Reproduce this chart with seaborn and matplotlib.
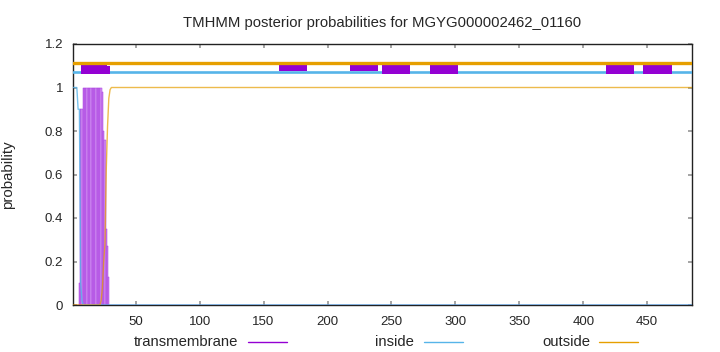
import numpy as np
import pandas as pd
import matplotlib
matplotlib.use("Agg")
import matplotlib.pyplot as plt
from matplotlib.lines import Line2D
import seaborn as sns

# ---------------- data ----------------
seq_len = 485
title = "TMHMM posterior probabilities for MGYG000002462_01160"

# transmembrane posterior, residues 1..31 (rest 0)
tm_head = [0, 0, 0, 0, 0, 0.1, 0.9, 0.9, 1.0, 1.0, 1.0, 1.0, 1.0, 1.0, 1.0,
           1.0, 1.0, 1.0, 1.0, 1.0, 1.0, 1.0, 1.0, 0.98, 0.80, 0.76, 0.35,
           0.27, 0.13, 0, 0]
# inside posterior, residues 1..9 (rest 0)
inside_head = [1.0, 1.0, 1.0, 1.0, 0.9, 0.9, 0.1, 0.02, 0]
# outside posterior, residues 1..31 (rest 1)
outside_head = [0] * 22 + [0.02, 0.08, 0.2, 0.28, 0.62, 0.82, 0.95, 0.99, 1.0]

# topology boxes at the top (start, end) in residues
full_boxes = [(7.1, 27.2)]
full_box_tail = [(27.2, 30.3)]
upper_boxes = [(162.4, 184.3), (217.3, 239.2)]
lower_boxes = [(242.4, 264.3), (280, 302), (418, 440), (447, 469)]
outside_level = 1.111
inside_level = 1.071

xticks = [50, 100, 150, 200, 250, 300, 350, 400, 450]
yticks = [0, 0.2, 0.4, 0.6, 0.8, 1.0, 1.2]
ytick_labels = ["0", "0.2", "0.4", "0.6", "0.8", "1", "1.2"]
legend_names = ["transmembrane", "inside", "outside"]

# ---------------- build series ----------------
pos = np.arange(1, seq_len + 1)
tm = np.array(tm_head + [0.0] * (seq_len - len(tm_head)))
inside = np.array(inside_head + [0.0] * (seq_len - len(inside_head)))
outside = np.array(outside_head + [1.0] * (seq_len - len(outside_head)))
df = pd.DataFrame({"pos": pos, "tm": tm, "inside": inside, "outside": outside})

purple = "#9400d3"
blue = "#56b4e9"
orange = "#e69f00"

sns.set_theme(style="white")
plt.rcParams["font.family"] = ["Liberation Sans", "DejaVu Sans"]

W, H = 720, 352
L, R, T, B = 73, 692, 44, 305
fig = plt.figure(figsize=(7.2, 3.52), dpi=100)
ax = fig.add_axes([L / W, (H - B) / H, (R - L) / W, (B - T) / H])

# transmembrane bars
ax.bar(df["pos"], df["tm"], width=1.0, color="#d294f2",
       edgecolor="#a838e0", linewidth=0.35, zorder=2)

# inside / outside lines
sns.lineplot(data=df, x="pos", y="inside", ax=ax, color=blue, lw=1.0,
             alpha=0.8, zorder=3, legend=False)
sns.lineplot(data=df, x="pos", y="outside", ax=ax, color=orange, lw=1.0,
             alpha=0.7, zorder=3, legend=False)

# topology track at top
ax.axhline(inside_level, color=blue, lw=1.9, zorder=3)
for s, e in full_boxes:
    ax.fill_between([s, e], 1.062, 1.108, color=purple, lw=0, zorder=4)
for s, e in full_box_tail:
    ax.fill_between([s, e], 1.062, 1.098, color=purple, lw=0, zorder=4)
for s, e in upper_boxes:
    ax.fill_between([s, e], 1.076, 1.106, color=purple, lw=0, zorder=4)
for s, e in lower_boxes:
    ax.fill_between([s, e], 1.064, 1.106, color=purple, lw=0, zorder=4)
ax.axhline(outside_level, color=orange, lw=2.4, zorder=5)

ax.set_xlim(1, seq_len)
ax.set_ylim(0, 1.2)
ax.set_xticks(xticks)
ax.set_xticklabels([str(t) for t in xticks], fontsize=9.5)
ax.set_yticks(yticks)
ax.set_yticklabels(ytick_labels, fontsize=9.5)
ax.tick_params(axis="x", direction="in", length=3, color="#999999", pad=8,
               top=True, bottom=True)
ax.tick_params(axis="y", direction="in", length=3, color="#999999", pad=7,
               left=True, right=True)
for sp in ax.spines.values():
    sp.set_color("#222222")
    sp.set_linewidth(1.0)
ax.set_xlabel("")
ax.set_ylabel("probability", fontsize=10.8)
ax.yaxis.set_label_coords((15 - L) / (R - L), 0.5)

fig.text((L + R) / 2 / W, 1 - 23 / H, title, ha="center", va="center",
         fontsize=10.7)

# legend row below the axis
legend_items = [
    (legend_names[0], 238, 248, 287, purple),
    (legend_names[1], 414, 424, 463, blue),
    (legend_names[2], 590, 599, 638, orange),
]
ly = 1 - 341.5 / H
for name, tx, x0, x1, c in legend_items:
    fig.text(tx / W, ly, name, ha="right", va="center", fontsize=10.7)
    fig.add_artist(Line2D([x0 / W, x1 / W], [ly, ly], color=c, lw=1.0,
                          transform=fig.transFigure))

fig.savefig("out.png", dpi=100)
